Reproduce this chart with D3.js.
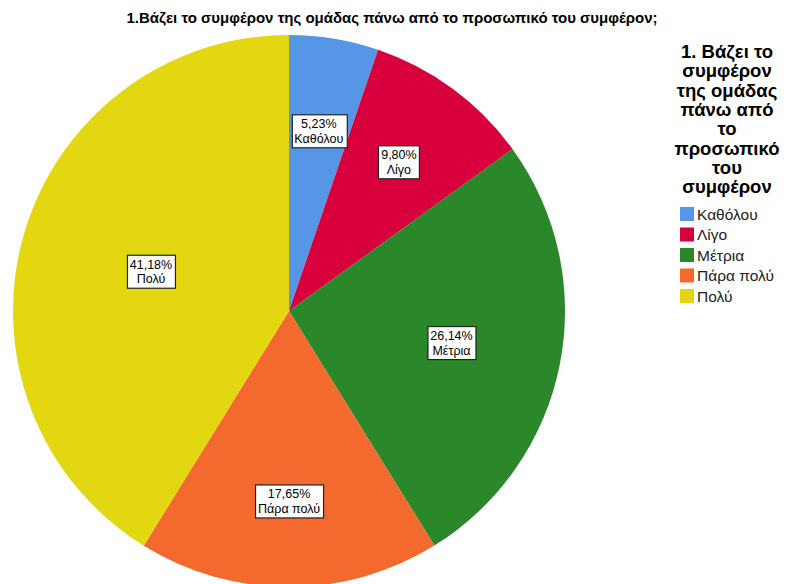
<!DOCTYPE html>
<html>
<head>
<meta charset="utf-8">
<script src="https://cdn.jsdelivr.net/npm/d3@7/dist/d3.min.js"></script>
<style>
  html, body { margin: 0; padding: 0; background: #fff; }
  svg { display: block; font-family: "Liberation Sans", Arial, sans-serif; }
</style>
</head>
<body>
<svg id="chart" width="786" height="584"></svg>
<script>
// Answer categories and their shares (%)
const categories = ["Καθόλου", "Λίγο", "Μέτρια", "Πάρα πολύ", "Πολύ"];
const percents = [5.23, 9.80, 26.14, 17.65, 41.18];
const colors = ["#5596e6", "#d7003c", "#2a882a", "#f4692d", "#e2d710"];

const chartTitle = "1.Βάζει το συμφέρον της ομάδας πάνω από το προσωπικό του συμφέρον;";
const legendTitleLines = ["1. Βάζει το", "συμφέρον", "της ομάδας", "πάνω από", "το", "προσωπικό", "του", "συμφέρον"];

// Radial placement of each slice label, as a fraction of the radius
const labelRadius = [0.66, 0.67, 0.6, 0.69, 0.52];

const svg = d3.select("#chart");
const cx = 289, cy = 311, R = 276;

const data = categories.map((c, i) => ({ cat: c, value: percents[i], color: colors[i] }));

const pie = d3.pie().value(d => d.value).sort(null);
const arcs = pie(data);
const arc = d3.arc().innerRadius(0).outerRadius(R);

const g = svg.append("g").attr("transform", `translate(${cx},${cy})`);

g.selectAll("path.slice")
  .data(arcs)
  .join("path")
  .attr("class", "slice")
  .attr("d", arc)
  .attr("fill", d => d.data.color);

// Boxed value labels
const fmt = v => v.toFixed(2).replace(".", ",") + "%";
arcs.forEach((a, i) => {
  const mid = (a.startAngle + a.endAngle) / 2;
  const r = R * labelRadius[i];
  const x = Math.sin(mid) * r, y = -Math.cos(mid) * r;
  const lg = g.append("g").attr("transform", `translate(${x},${y})`);
  const rect = lg.append("rect").attr("fill", "#fff").attr("stroke", "#222").attr("stroke-width", 1.2);
  const t = lg.append("text")
    .attr("text-anchor", "middle")
    .attr("font-size", 12.5)
    .attr("fill", "#000");
  t.append("tspan").attr("x", 0).attr("y", -3).text(fmt(a.data.value));
  t.append("tspan").attr("x", 0).attr("y", 11.5).text(a.data.cat);
  const bb = t.node().getBBox();
  rect.attr("x", Math.round(bb.x - 3) + 0.5)
      .attr("y", -16.5)
      .attr("width", Math.round(bb.width + 6))
      .attr("height", 33);
});

// Chart title
svg.append("text")
  .attr("x", 392).attr("y", 23)
  .attr("text-anchor", "middle")
  .attr("font-size", 15)
  .attr("font-weight", "bold")
  .attr("fill", "#000")
  .text(chartTitle);

// Legend
const legend = svg.append("g");
legend.selectAll("text.ltitle")
  .data(legendTitleLines)
  .join("text")
  .attr("class", "ltitle")
  .attr("x", 727)
  .attr("y", (d, i) => 58 + i * 19.3)
  .attr("text-anchor", "middle")
  .attr("font-size", 18.5)
  .attr("font-weight", "bold")
  .attr("fill", "#000")
  .text(d => d);

const items = legend.selectAll("g.item")
  .data(data)
  .join("g")
  .attr("class", "item")
  .attr("transform", (d, i) => `translate(680, ${207 + i * 20.5})`);
items.append("rect").attr("width", 14).attr("height", 14).attr("fill", d => d.color);
items.append("text")
  .attr("x", 17).attr("y", 12.5)
  .attr("font-size", 15.5)
  .attr("fill", "#222")
  .text(d => d.cat);
</script>
</body>
</html>
